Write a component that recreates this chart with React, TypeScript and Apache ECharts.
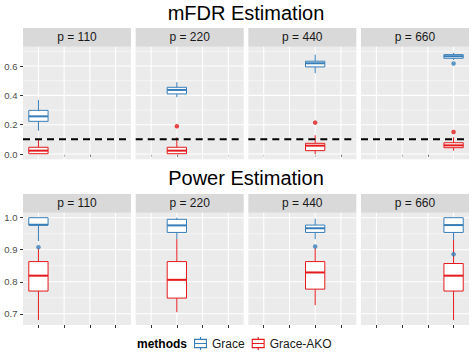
import React, { useEffect, useRef } from 'react';
import * as echarts from 'echarts';

// ---- data ----
const panels = ['p = 110', 'p = 220', 'p = 440', 'p = 660'];
const panelX = [1, 2, 3, 4]; // x-scale slot of each panel's boxes

// mFDR estimation: [min, Q1, median, Q3, max]
const fdrGrace = [
  [0.159, 0.223, 0.257, 0.298, 0.369],
  [0.387, 0.41, 0.437, 0.455, 0.49],
  [0.551, 0.594, 0.619, 0.633, 0.678],
  [0.642, 0.653, 0.667, 0.678, 0.69],
];
const fdrGraceOut = [[], [], [], [0.617]];
const fdrAko = [
  [0.0, 0.002, 0.023, 0.046, 0.096],
  [0.0, 0.002, 0.023, 0.046, 0.114],
  [0.0, 0.023, 0.057, 0.073, 0.128],
  [0.023, 0.043, 0.059, 0.077, 0.114],
];
const fdrAkoOut = [[], [0.189], [0.214], [0.15]];
const fdrTarget = 0.1;
const fdrMajor = [0, 0.2, 0.4, 0.6];
const fdrMinor = [0.1, 0.3, 0.5, 0.7];

// Power estimation: [min, Q1, median, Q3, max]
const powGrace = [
  [0.927, 0.977, 0.978, 1.0, 1.0],
  [0.933, 0.954, 0.976, 0.995, 1.0],
  [0.933, 0.954, 0.967, 0.977, 0.997],
  [0.93, 0.954, 0.977, 1.0, 1.0],
];
const powGraceOut = [[0.908], [], [0.91], [0.886]];
const powAko = [
  [0.68, 0.771, 0.819, 0.863, 0.905],
  [0.705, 0.749, 0.806, 0.863, 0.933],
  [0.727, 0.777, 0.829, 0.863, 0.905],
  [0.68, 0.771, 0.819, 0.857, 0.93],
];
const powAkoOut = [[], [], [], []];
const powMajor = [0.7, 0.8, 0.9, 1.0];
const powMinor = [0.75, 0.85, 0.95];

const titles = ['mFDR Estimation', 'Power Estimation'];
const methods = ['Grace', 'Grace-AKO'];

// ---- styles / layout ----
const BLUE = '#377EB8';
const RED = '#E41A1C';
const FONT = '"Liberation Sans", Arial, Helvetica, sans-serif';
const panelLefts = [23, 135.7, 248.3, 361];
const panelW = 108;
const rows = [
  { titleY: 13, stripTop: 28, gridTop: 46.7, gridH: 112.6, min: -0.036, max: 0.732,
    grace: fdrGrace, graceOut: fdrGraceOut, ako: fdrAko, akoOut: fdrAkoOut, major: fdrMajor, minor: fdrMinor, target: fdrTarget },
  { titleY: 178, stripTop: 194, gridTop: 212.7, gridH: 112.3, min: 0.665, max: 1.0156,
    grace: powGrace, graceOut: powGraceOut, ako: powAko, akoOut: powAkoOut, major: powMajor, minor: powMinor, target: null },
];

const ICON =
  'path://M0,2L14,2L14,12L0,12Z M1.2,3.2L1.2,10.8L12.8,10.8L12.8,3.2Z M1.2,6.4L12.8,6.4L12.8,7.6L1.2,7.6Z M6.4,0L7.6,0L7.6,2L6.4,2Z M6.4,12L7.6,12L7.6,14L6.4,14Z';

function renderBox(params: any, api: any) {
  const x = api.value(0);
  const v = [1, 2, 3, 4, 5].map((i) => api.value(i));
  const hw = api.size([0.75, 0])[0] / 2;
  const cx = api.coord([x, v[0]])[0];
  const y = v.map((val) => api.coord([x, val])[1]);
  const color = api.visual('color');
  return {
    type: 'group',
    children: [
      { type: 'line', shape: { x1: cx, y1: y[3], x2: cx, y2: y[4] }, style: { stroke: color, lineWidth: 1 } },
      { type: 'line', shape: { x1: cx, y1: y[1], x2: cx, y2: y[0] }, style: { stroke: color, lineWidth: 1 } },
      { type: 'rect', shape: { x: cx - hw, y: y[3], width: 2 * hw, height: y[1] - y[3] }, style: { fill: '#ffffff', stroke: color, lineWidth: 1 } },
      { type: 'line', shape: { x1: cx - hw, y1: y[2], x2: cx + hw, y2: y[2] }, style: { stroke: color, lineWidth: 2 } },
    ],
  };
}

function renderGridLines(params: any, api: any) {
  const cs = params.coordSys;
  const kind = api.value(2);
  const pt = api.coord([api.value(0), api.value(1)]);
  if (kind === 2) {
    return { type: 'line', shape: { x1: pt[0], y1: cs.y, x2: pt[0], y2: cs.y + cs.height }, style: { stroke: '#ffffff', lineWidth: 1.07 } };
  }
  return {
    type: 'line',
    shape: { x1: cs.x, y1: pt[1], x2: cs.x + cs.width, y2: pt[1] },
    style: { stroke: '#ffffff', lineWidth: kind === 0 ? 1.07 : 0.53 },
  };
}

function renderTarget(params: any, api: any) {
  const cs = params.coordSys;
  const pt = api.coord([api.value(0), api.value(1)]);
  return {
    type: 'line',
    shape: { x1: cs.x, y1: pt[1], x2: cs.x + cs.width, y2: pt[1] },
    style: { stroke: '#000000', lineWidth: 2, lineDash: [7, 5] },
  };
}

function buildOption() {
  const grid: any[] = [];
  const xAxis: any[] = [];
  const yAxis: any[] = [];
  const series: any[] = [];
  const graphic: any[] = [];

  rows.forEach((r, ri) => {
    graphic.push({
      type: 'text', x: 246, y: r.titleY, silent: true,
      style: { text: titles[ri], fill: '#000000', fontSize: 20, fontFamily: FONT, textAlign: 'center', textVerticalAlign: 'middle' },
    });
    panels.forEach((pName, c) => {
      const gi = ri * 4 + c;
      const left = panelLefts[c];
      graphic.push({
        type: 'rect', silent: true,
        shape: { x: left, y: r.stripTop, width: panelW, height: r.gridTop - r.stripTop },
        style: { fill: '#D9D9D9' },
      });
      graphic.push({
        type: 'text', silent: true, x: left + panelW / 2, y: (r.stripTop + r.gridTop) / 2,
        style: { text: pName, fill: '#1A1A1A', fontSize: 12, fontFamily: FONT, textAlign: 'center', textVerticalAlign: 'middle' },
      });
      grid.push({
        left, top: r.gridTop, width: panelW, height: r.gridH,
        show: true, backgroundColor: '#EBEBEB', borderWidth: 0, containLabel: false, outerBoundsMode: 'none',
      });
      xAxis.push({
        gridIndex: gi, type: 'value', min: 0.4, max: 4.6,
        axisLine: { show: false }, splitLine: { show: false }, axisLabel: { show: false },
        axisTick: { show: true, customValues: panelX, length: 3, lineStyle: { color: '#333333', width: 1 } },
      });
      yAxis.push({
        gridIndex: gi, type: 'value', min: r.min, max: r.max,
        axisLine: { show: false }, splitLine: { show: false },
        axisTick: { show: c === 0, customValues: r.major, length: 3, lineStyle: { color: '#333333', width: 1 } },
        axisLabel: {
          show: c === 0, customValues: r.major, formatter: (v: number) => v.toFixed(1),
          fontSize: 9.5, color: '#4D4D4D', margin: 5.5, fontFamily: FONT,
        },
      });
      const lines: any[] = [
        ...r.major.map((v) => [1, v, 0]),
        ...r.minor.map((v) => [1, v, 1]),
        ...panelX.map((x) => [x, r.major[1], 2]),
      ];
      series.push({
        type: 'custom', xAxisIndex: gi, yAxisIndex: gi, silent: true, z: 1,
        renderItem: renderGridLines, data: lines, encode: { x: 0, y: 1 },
      });
      series.push({
        type: 'custom', name: methods[0], xAxisIndex: gi, yAxisIndex: gi, z: 3,
        itemStyle: { color: BLUE }, renderItem: renderBox,
        data: [[panelX[c], ...r.grace[c]]], encode: { x: 0, y: [1, 2, 3, 4, 5] },
      });
      series.push({
        type: 'custom', name: methods[1], xAxisIndex: gi, yAxisIndex: gi, z: 4,
        itemStyle: { color: RED }, renderItem: renderBox,
        data: [[panelX[c], ...r.ako[c]]], encode: { x: 0, y: [1, 2, 3, 4, 5] },
      });
      series.push({
        type: 'scatter', name: methods[0], xAxisIndex: gi, yAxisIndex: gi, z: 5,
        symbol: 'circle', symbolSize: 4.5, itemStyle: { color: BLUE },
        data: r.graceOut[c].map((v) => [panelX[c], v]),
      });
      series.push({
        type: 'scatter', name: methods[1], xAxisIndex: gi, yAxisIndex: gi, z: 5,
        symbol: 'circle', symbolSize: 4.5, itemStyle: { color: RED },
        data: r.akoOut[c].map((v) => [panelX[c], v]),
      });
      if (r.target !== null) {
        series.push({
          type: 'custom', xAxisIndex: gi, yAxisIndex: gi, silent: true, z: 6,
          renderItem: renderTarget, data: [[1, r.target]], encode: { x: 0, y: 1 },
        });
      }
    });
  });

  graphic.push({
    type: 'text', silent: true, x: 137, y: 344,
    style: { text: 'methods', fill: '#000000', fontSize: 12, fontWeight: 'bold', fontFamily: FONT, textAlign: 'left', textVerticalAlign: 'middle' },
  });

  return {
    animation: false,
    backgroundColor: '#ffffff',
    grid, xAxis, yAxis, series, graphic,
    legend: {
      left: 194, top: 337, orient: 'horizontal', padding: 0,
      itemWidth: 13, itemHeight: 14, itemGap: 7,
      textStyle: { fontSize: 12, color: '#1A1A1A', fontFamily: FONT },
      itemStyle: { borderWidth: 0 },
      data: [
        { name: methods[0], icon: ICON, itemStyle: { color: BLUE, borderWidth: 0 } },
        { name: methods[1], icon: ICON, itemStyle: { color: RED, borderWidth: 0 } },
      ],
    },
  };
}

export default function App() {
  const ref = useRef<HTMLDivElement>(null);
  useEffect(() => {
    if (!ref.current) return;
    const chart = echarts.init(ref.current, undefined, { renderer: 'svg' });
    chart.setOption(buildOption() as any);
    return () => chart.dispose();
  }, []);
  return <div ref={ref} style={{ position: 'absolute', left: 0, top: 0, width: 474, height: 355 }} />;
}
